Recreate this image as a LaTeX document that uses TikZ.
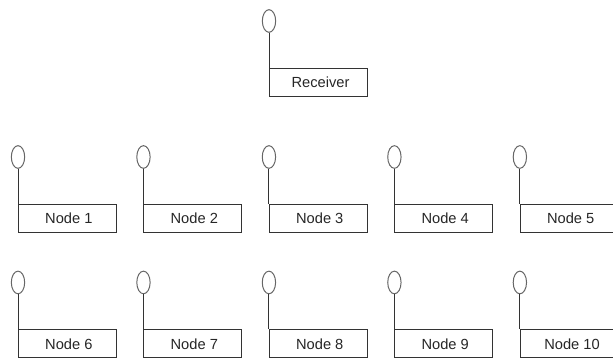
\documentclass[tikz,border=0pt]{standalone}
\usepackage{fontspec}
\usepackage{tikz}
\usetikzlibrary{shapes.geometric}
\setmainfont{Liberation Sans}

\begin{document}
\begin{tikzpicture}[x=0.75pt,y=-0.75pt,node distance=94.1pt]
        \tikzset{every node/.style={font=\fontsize{11pt}{12pt}\selectfont, text=black!85}}
        \tikzset{antenna/.style={ellipse, draw=black!60, line width=0.75pt, fill=white, minimum width=10pt, minimum height=17pt, inner sep=0pt}}
        \tikzset{unitbox/.style={rectangle, draw=black!80, line width=0.75pt, anchor=north west, yshift=-35.25pt, minimum width=73.5pt, minimum height=21pt, inner sep=0pt}}
        \useasboundingbox (0,0) rectangle (613,359);

        % Antennas
		\node (antR) [antenna] at (269,21) {};
		\node (ant1) [antenna] at (18,157) {};
		\node (ant2) [antenna, right of=ant1] {};
		\node (ant3) [antenna, right of=ant2] {};
		\node (ant4) [antenna, right of=ant3] {};
		\node (ant5) [antenna, right of=ant4] {};
		\node (ant6) [antenna, below of=ant1] {};
		\node (ant7) [antenna, right of=ant6] {};
		\node (ant8) [antenna, right of=ant7] {};
		\node (ant9) [antenna, right of=ant8] {};
		\node (ant10) [antenna, right of=ant9] {};

        % Boxes
		\node (receiver) [unitbox] at (antR) {\hspace{3pt}Receiver};
		\node (node1) [unitbox] at (ant1) {\hspace{2pt}Node 1};
		\node (node2) [unitbox] at (ant2) {\hspace{2pt}Node 2};
		\node (node3) [unitbox] at (ant3) {\hspace{2pt}Node 3};
		\node (node4) [unitbox] at (ant4) {\hspace{2pt}Node 4};
		\node (node5) [unitbox] at (ant5) {\hspace{2pt}Node 5};
		\node (node6) [unitbox] at (ant6) {\hspace{2pt}Node 6};
		\node (node7) [unitbox] at (ant7) {\hspace{2pt}Node 7};
		\node (node8) [unitbox] at (ant8) {\hspace{2pt}Node 8};
		\node (node9) [unitbox] at (ant9) {\hspace{2pt}Node 9};
		\node (node10) [unitbox] at (ant10) {\hspace{4pt}Node 10};

        % Stems
        \draw[line width=0.75pt, black!80] (antR) -- (receiver.north west);
        \draw[line width=0.75pt, black!80] (ant1) -- (node1.north west);
        \draw[line width=0.75pt, black!80] (ant2) -- (node2.north west);
        \draw[line width=0.75pt, black!80] (ant3) -- (node3.north west);
        \draw[line width=0.75pt, black!80] (ant4) -- (node4.north west);
        \draw[line width=0.75pt, black!80] (ant5) -- (node5.north west);
        \draw[line width=0.75pt, black!80] (ant6) -- (node6.north west);
        \draw[line width=0.75pt, black!80] (ant7) -- (node7.north west);
        \draw[line width=0.75pt, black!80] (ant8) -- (node8.north west);
        \draw[line width=0.75pt, black!80] (ant9) -- (node9.north west);
        \draw[line width=0.75pt, black!80] (ant10) -- (node10.north west);

    \end{tikzpicture}
\end{document}
